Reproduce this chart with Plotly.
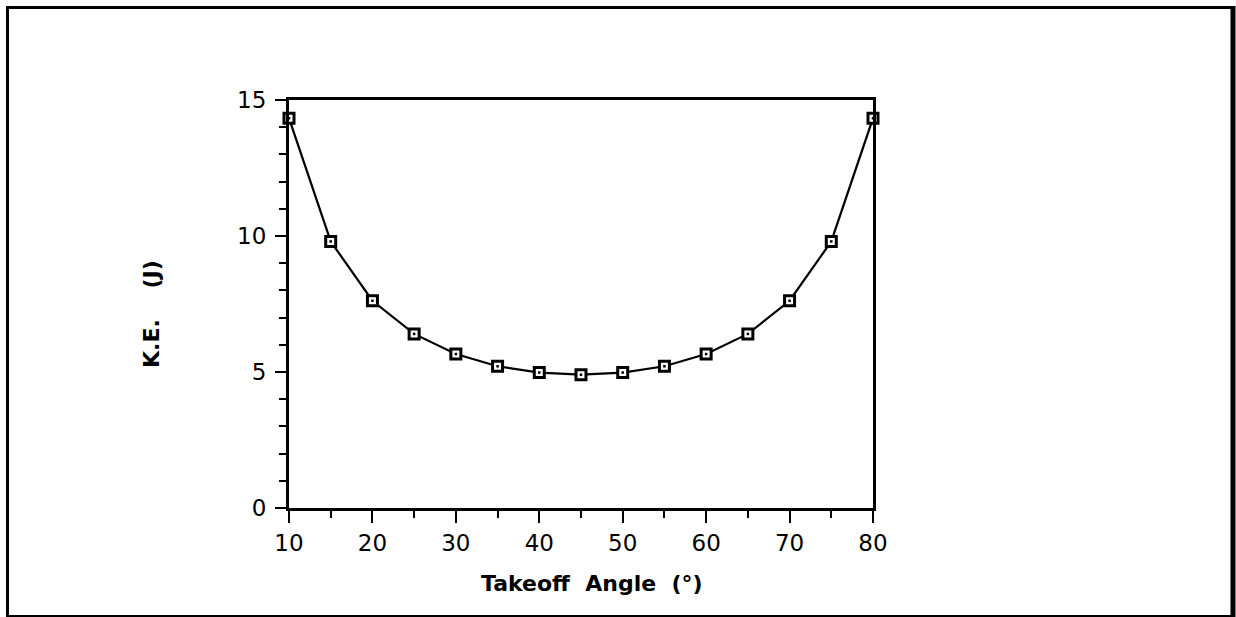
import plotly.graph_objects as go

# Takeoff angle (degrees) and kinetic energy (J)
angles = [10, 15, 20, 25, 30, 35, 40, 45, 50, 55, 60, 65, 70, 75, 80]
kinetic_energy = [14.33, 9.80, 7.62, 6.40, 5.66, 5.21, 4.98, 4.90,
                  4.98, 5.21, 5.66, 6.40, 7.62, 9.80, 14.33]

x_ticks = [10, 20, 30, 40, 50, 60, 70, 80]
y_ticks = [0, 5, 10, 15]

FONT = "DejaVu Sans"

fig = go.Figure()
# connecting line with hollow square markers
fig.add_trace(go.Scatter(
    x=angles, y=kinetic_energy,
    mode="lines+markers",
    line=dict(color="black", width=2.2),
    marker=dict(symbol="square", size=10, color="white",
                line=dict(color="black", width=3)),
    cliponaxis=False,
    showlegend=False,
))
# small centre dot inside each marker
fig.add_trace(go.Scatter(
    x=angles, y=kinetic_energy,
    mode="markers",
    marker=dict(symbol="square", size=2.5, color="black", line=dict(width=0)),
    cliponaxis=False,
    showlegend=False,
))

axis_common = dict(
    showgrid=False, zeroline=False,
    showline=True, linecolor="black", linewidth=3, mirror=True,
    ticks="outside", tickcolor="black", tickwidth=2,
    tickfont=dict(family=FONT, size=23, color="black"),
)

fig.update_xaxes(
    range=[10, 80], tickvals=x_ticks, ticklen=12,
    minor=dict(dtick=5, tick0=0, ticks="outside", ticklen=7,
               tickwidth=2, tickcolor="black"),
    ticklabelstandoff=0,
    **axis_common,
)
fig.update_yaxes(
    range=[0, 15], tickvals=y_ticks, ticklen=11,
    minor=dict(dtick=1, tick0=0, ticks="outside", ticklen=7,
               tickwidth=2, tickcolor="black"),
    ticklabelstandoff=4,
    **axis_common,
)

# plot area in pixels: x 289..873, y 100..508
L, R, T, B = 289, 873, 100, 508
def px_x(p):
    return (p - L) / (R - L)
def px_y(p):
    return (B - p) / (B - T)

# outer frame around the whole figure
frame = [
    (7.5, 6, 7.5, 617, 3),      # left
    (6, 7.5, 1234, 7.5, 3),     # top
    (1233, 6, 1233, 617, 5),    # right
    (6, 616, 1233, 616, 2),     # bottom
]
for x0, y0, x1, y1, w in frame:
    fig.add_shape(type="line", xref="paper", yref="paper",
                  x0=px_x(x0), y0=px_y(y0), x1=px_x(x1), y1=px_y(y1),
                  line=dict(color="black", width=w))

NB = "\u00a0"
fig.add_annotation(
    text=f"Takeoff{NB*2}Angle{NB*2}(°)",
    xref="paper", yref="paper", x=px_x(592), y=px_y(583),
    showarrow=False, xanchor="center", yanchor="middle",
    font=dict(family=FONT, size=22, color="black", weight="bold"),
)
fig.add_annotation(
    text=f"K.E.{NB*4}(J)",
    xref="paper", yref="paper", x=px_x(151), y=px_y(314),
    showarrow=False, xanchor="center", yanchor="middle", textangle=-90,
    font=dict(family=FONT, size=22, color="black", weight="bold"),
)

fig.update_layout(
    width=1236, height=617,
    margin=dict(l=L, r=1236 - R, t=T, b=617 - B),
    paper_bgcolor="white", plot_bgcolor="white",
)

fig.write_html("out.html")
